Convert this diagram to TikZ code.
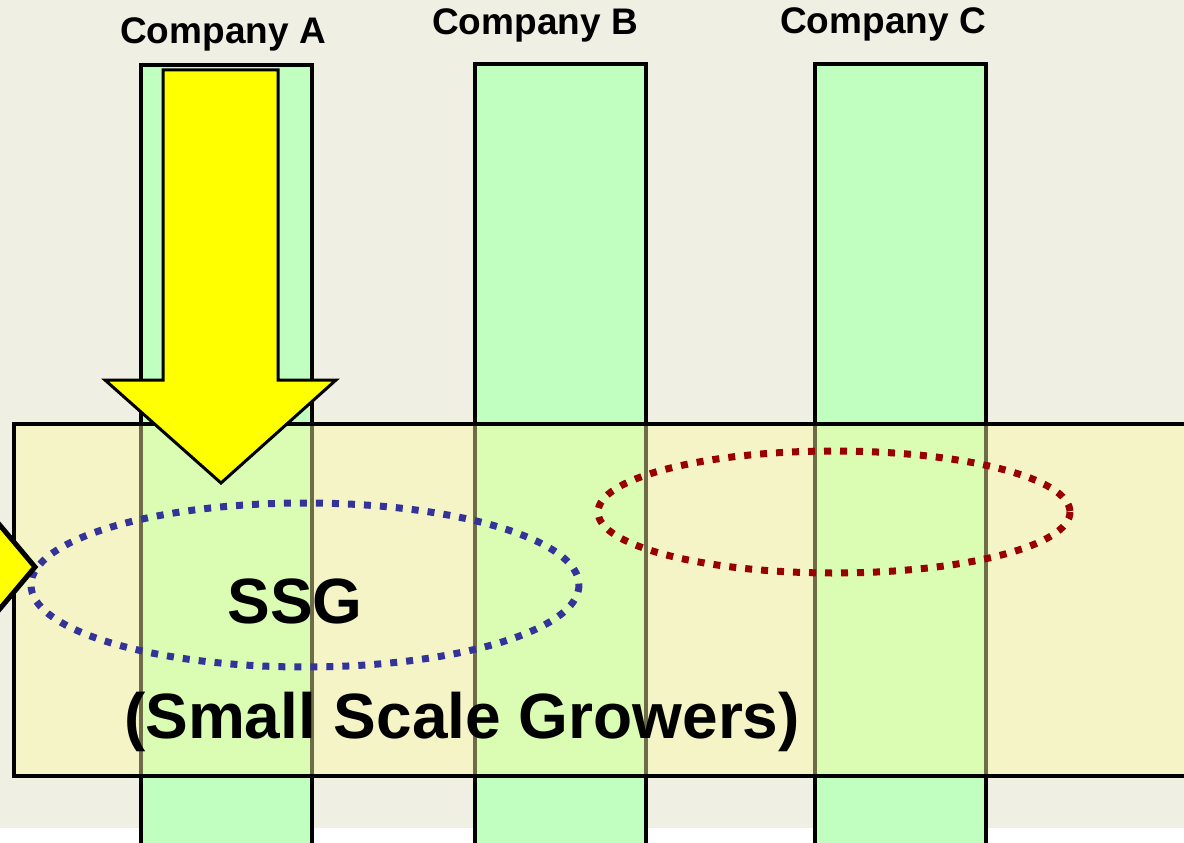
\documentclass[tikz,border=0pt]{standalone}
\usepackage{fontspec}
\setmainfont{Liberation Sans}
\definecolor{bgbeige}{RGB}{240,239,227}
\definecolor{colgreen}{RGB}{192,255,192}
\definecolor{rectyellow}{RGB}{253,252,163}
\definecolor{arrowyellow}{RGB}{255,255,0}
\definecolor{dotblue}{RGB}{51,51,153}
\definecolor{dotred}{RGB}{153,0,0}
\tikzset{
  column/.style={fill=colgreen, draw=black, line width=4pt},
  band/.style={fill=rectyellow, fill opacity=0.43, draw=black, line width=3.5pt},
  dotring/.style={line width=7pt, dash pattern=on 7pt off 9pt},
  bigarrow/.style={fill=arrowyellow, draw=black, line width=3pt, line join=miter},
  complabel/.style={anchor=base, font=\bfseries\fontsize{37}{40}\selectfont, inner sep=0pt},
  bigtext/.style={anchor=base, font=\bfseries\fontsize{64}{70}\selectfont, inner sep=0pt}
}
\begin{document}
\begin{tikzpicture}[x=1pt, y=-1pt]
\useasboundingbox (0,0) rectangle (1184,843);
\clip (0,0) rectangle (1184,843);
\fill[white] (0,0) rectangle (1184,843);
\fill[bgbeige] (0,0) rectangle (1184,828);
% columns
\draw[column] (141,65) rectangle (312,860);
\draw[column] (475,64) rectangle (646,860);
\draw[column] (815,64) rectangle (986,860);
% band
\draw[band] (14,424) rectangle (1200,776);
% dotted ellipses
\draw[dotring, dotblue] (305,585) ellipse [x radius=274, y radius=82];
\draw[dotring, dotred] (834,512) ellipse [x radius=236, y radius=61];
% arrows
\draw[bigarrow] (163,70) -- (278,70) -- (278,380) -- (336,380) -- (221,483) -- (105,380) -- (163,380) -- cycle;
\draw[bigarrow, line width=5pt] (-60,454) -- (35,567) -- (-60,680) -- cycle;
% labels
\node[complabel] (labA) at (223,44) {Company A};
\node[complabel] (labB) at (535,35) {Company B};
\node[complabel] (labC) at (883,34) {Company C};
\node[bigtext] (ssg) at (295,623) {SSG};
\node[bigtext] (ssgfull) at (462,738) {(Small Scale Growers)};
\end{tikzpicture}
\end{document}
